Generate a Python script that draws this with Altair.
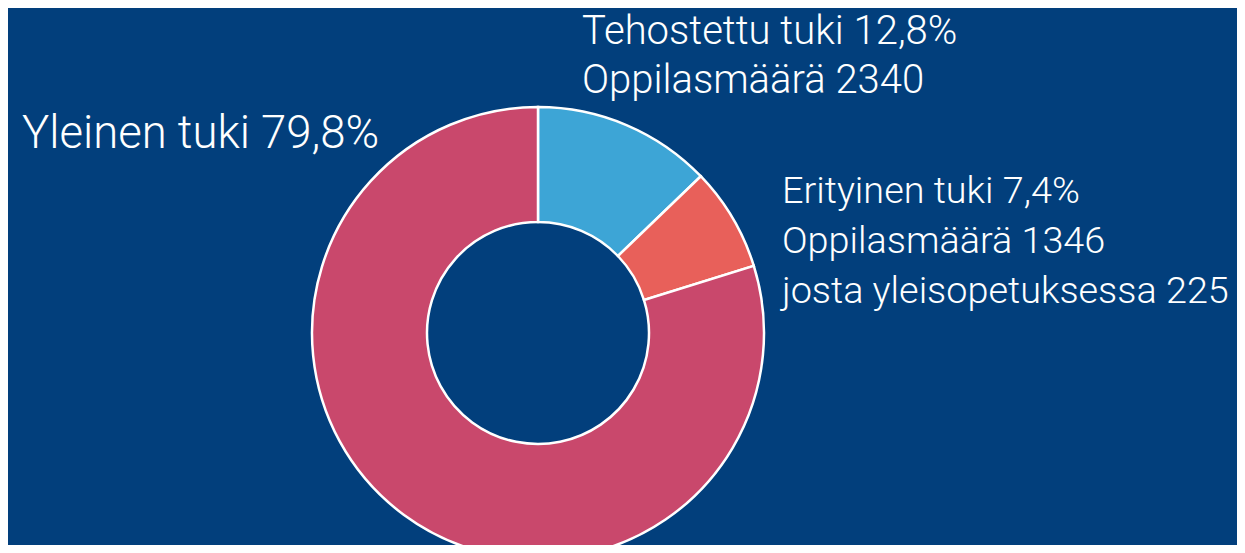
import altair as alt
import pandas as pd

# --- data ---
categories = ["Tehostettu tuki", "Erityinen tuki", "Yleinen tuki"]
shares = [12.8, 7.4, 79.8]
pupils = [2340, 1346, None]
general_ed_of_special = 225
colors = ["#3da5d6", "#e8605a", "#c9486c"]

BG = "#023f7c"
FONT = "Roboto"

def pct(v):
    return f"{v:.1f}".replace(".", ",") + "%"

df = pd.DataFrame({"cat": categories, "share": shares, "ord": list(range(len(categories)))})

donut = alt.Chart(df).mark_arc(
    innerRadius=111, outerRadius=226, stroke="white", strokeWidth=2.5
).encode(
    theta=alt.Theta("share:Q", stack=True),
    order=alt.Order("ord:Q"),
    color=alt.Color("cat:N", scale=alt.Scale(domain=categories, range=colors), legend=None),
    x=alt.value(530),
    y=alt.value(325),
)

one = pd.DataFrame({"a": [0]})

teho_lines = [f"{categories[0]} {pct(shares[0])}", f"Oppilasmäärä {pupils[0]}"]
erit_lines = [f"{categories[1]} {pct(shares[1])}", f"Oppilasmäärä {pupils[1]}",
              f"josta yleisopetuksessa {general_ed_of_special}"]
yle_lines = f"{categories[2]} {pct(shares[2])}"

def label(lines, x, y, size, lh):
    return alt.Chart(one).mark_text(
        text=lines, align="left", baseline="alphabetic", font=FONT, fontWeight=300,
        fontSize=size, lineHeight=lh, color="white"
    ).encode(x=alt.value(x), y=alt.value(y))

chart = alt.layer(
    donut,
    label(teho_lines, 574, 36, 40, 49),
    label(erit_lines, 774, 195, 37.8, 50),
    label(yle_lines, 14, 140, 45.5, 50),
).properties(
    width=1229, height=537,
    autosize=alt.AutoSizeParams(type="fit", contains="padding"),
    padding=0,
).configure(background=BG).configure_view(stroke=None)

chart.save("out.html", embed_options={"renderer": "svg", "actions": False})
